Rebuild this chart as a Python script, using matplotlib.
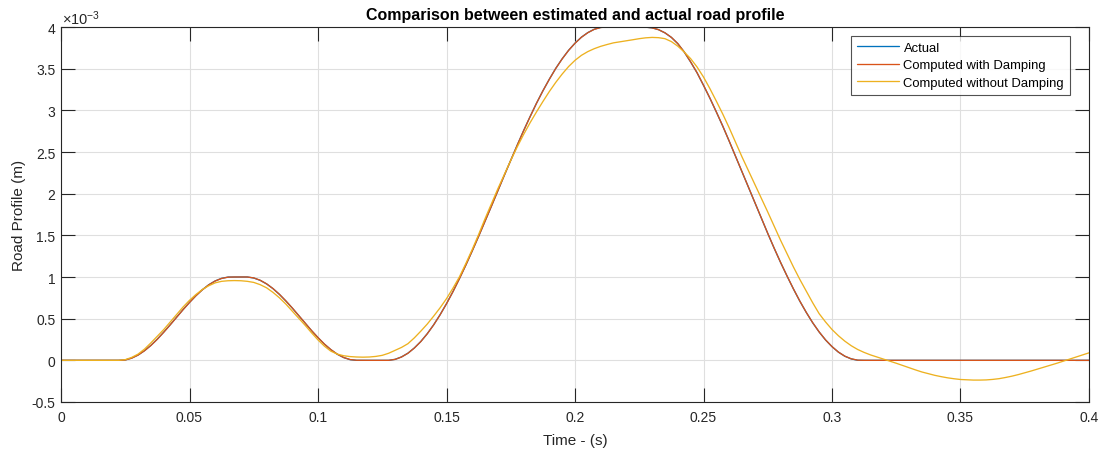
import numpy as np
import matplotlib
matplotlib.use("Agg")
import matplotlib.pyplot as plt
from matplotlib.ticker import FuncFormatter, FixedLocator

plt.rcParams['font.family'] = ['Liberation Sans', 'DejaVu Sans']
plt.rcParams['mathtext.fontset'] = 'custom'
plt.rcParams['mathtext.rm'] = 'Liberation Sans'
plt.rcParams['mathtext.it'] = 'Liberation Sans:italic'

# Sample times (s), 2.5 ms step
time_s = np.round(np.arange(161) * 0.0025, 4)

# Road profile values in units of 1e-3 m
actual_mm = [
    0, 0, 0, 0, 0, 0, 0, 0, 0, 0,
    0.005, 0.027, 0.064, 0.116, 0.180, 0.255, 0.339, 0.427, 0.518, 0.609,
    0.695, 0.776, 0.847, 0.907, 0.953, 0.984, 0.999, 1.0, 1.0, 1.0,
    0.988, 0.960, 0.917, 0.860, 0.791, 0.712, 0.627, 0.537, 0.445, 0.356,
    0.272, 0.194, 0.128, 0.073, 0.033, 0.008, 0, 0, 0, 0,
    0, 0, 0.012, 0.041, 0.086, 0.149, 0.226, 0.319, 0.426, 0.547,
    0.680, 0.824, 0.979, 1.142, 1.313, 1.489, 1.670, 1.852, 2.038, 2.221,
    2.402, 2.581, 2.756, 2.923, 3.084, 3.234, 3.373, 3.503, 3.618, 3.720,
    3.806, 3.878, 3.933, 3.973, 3.995, 4.0, 4.0, 4.0, 4.0, 4.0,
    4.0, 3.998, 3.99, 3.968, 3.93, 3.875, 3.80, 3.70, 3.58, 3.45,
    3.30, 3.145, 2.98, 2.81, 2.63, 2.445, 2.26, 2.075, 1.888, 1.704,
    1.523, 1.345, 1.174, 1.012, 0.856, 0.709, 0.574, 0.450, 0.340, 0.244,
    0.164, 0.098, 0.049, 0.017, 0.001, 0, 0, 0, 0, 0,
    0, 0, 0, 0, 0, 0, 0, 0, 0, 0,
    0, 0, 0, 0, 0, 0, 0, 0, 0, 0,
    0, 0, 0, 0, 0, 0, 0, 0, 0, 0,
    0,
]

damped_mm = [
    0, 0, 0, 0, 0, 0, 0, 0, 0, 0,
    0.004, 0.026, 0.063, 0.115, 0.179, 0.254, 0.338, 0.426, 0.517, 0.608,
    0.694, 0.775, 0.846, 0.906, 0.952, 0.983, 0.998, 1.0, 1.0, 1.0,
    0.989, 0.961, 0.918, 0.861, 0.792, 0.713, 0.628, 0.538, 0.446, 0.357,
    0.273, 0.195, 0.129, 0.074, 0.034, 0.009, 0.001, 0, 0, 0,
    0, 0, 0.011, 0.040, 0.085, 0.148, 0.225, 0.318, 0.425, 0.546,
    0.679, 0.823, 0.978, 1.141, 1.312, 1.488, 1.669, 1.851, 2.037, 2.220,
    2.401, 2.580, 2.755, 2.922, 3.083, 3.233, 3.372, 3.502, 3.617, 3.719,
    3.805, 3.877, 3.932, 3.972, 3.994, 4.0, 4.0, 4.0, 4.0, 4.0,
    4.0, 3.998, 3.99, 3.968, 3.93, 3.876, 3.801, 3.701, 3.581, 3.451,
    3.301, 3.146, 2.981, 2.811, 2.631, 2.446, 2.261, 2.076, 1.889, 1.705,
    1.524, 1.346, 1.175, 1.013, 0.857, 0.710, 0.575, 0.451, 0.341, 0.245,
    0.165, 0.099, 0.050, 0.018, 0.002, 0, 0, 0, 0, 0,
    0, 0, 0, 0, 0, 0, 0, 0, 0, 0,
    0, 0, 0, 0, 0, 0, 0, 0, 0, 0,
    0, 0, 0, 0, 0, 0, 0, 0, 0, 0,
    0,
]

undamped_mm = [
    0, 0, 0, 0, 0, 0, 0, 0, 0, 0,
    0.008, 0.035, 0.075, 0.135, 0.21, 0.29, 0.37, 0.46, 0.55, 0.64,
    0.72, 0.79, 0.85, 0.895, 0.93, 0.948, 0.955, 0.957, 0.955, 0.948,
    0.935, 0.908, 0.87, 0.815, 0.75, 0.675, 0.59, 0.505, 0.42, 0.33,
    0.245, 0.17, 0.11, 0.075, 0.055, 0.045, 0.04, 0.038, 0.04, 0.047,
    0.06, 0.085, 0.12, 0.155, 0.20, 0.27, 0.35, 0.435, 0.53, 0.63,
    0.74, 0.865, 1.0, 1.16, 1.33, 1.51, 1.70, 1.88, 2.06, 2.23,
    2.40, 2.56, 2.71, 2.85, 2.98, 3.105, 3.225, 3.335, 3.435, 3.525,
    3.60, 3.66, 3.705, 3.74, 3.768, 3.79, 3.81, 3.822, 3.835, 3.847,
    3.86, 3.87, 3.875, 3.872, 3.86, 3.825, 3.77, 3.70, 3.62, 3.52,
    3.40, 3.26, 3.11, 2.955, 2.79, 2.615, 2.44, 2.275, 2.11, 1.945,
    1.78, 1.61, 1.44, 1.28, 1.12, 0.97, 0.83, 0.69, 0.56, 0.46,
    0.37, 0.295, 0.23, 0.175, 0.13, 0.095, 0.065, 0.04, 0.015, -0.01,
    -0.035, -0.062, -0.09, -0.115, -0.14, -0.16, -0.18, -0.196, -0.21, -0.221,
    -0.23, -0.234, -0.237, -0.237, -0.235, -0.229, -0.22, -0.206, -0.19, -0.171,
    -0.15, -0.128, -0.105, -0.083, -0.06, -0.035, -0.01, 0.015, 0.04, 0.065,
    0.09,
]

series_labels = ["Actual", "Computed with Damping", "Computed without Damping"]
series_colors = ["#0072BD", "#D95319", "#EDB120"]
x_ticks = [0, 0.05, 0.1, 0.15, 0.2, 0.25, 0.3, 0.35, 0.4]
y_ticks_mm = [-0.5, 0, 0.5, 1, 1.5, 2, 2.5, 3, 3.5, 4]

fig = plt.figure(figsize=(11.03, 4.56), dpi=100)
ax = fig.add_axes([61 / 1103, 53 / 456, 1028 / 1103, 375 / 456])

for vals, lab, col in zip([actual_mm, damped_mm, undamped_mm], series_labels, series_colors):
    ax.plot(time_s, np.array(vals) * 1e-3, color=col, lw=0.95, label=lab,
            solid_joinstyle='round', solid_capstyle='round')

ax.set_xlim(0, 0.4)
ax.set_ylim(-0.5e-3, 4e-3)
ax.xaxis.set_major_locator(FixedLocator(x_ticks))
ax.yaxis.set_major_locator(FixedLocator([v * 1e-3 for v in y_ticks_mm]))
ax.xaxis.set_major_formatter(FuncFormatter(lambda v, p: f"{v:g}"))
ax.yaxis.set_major_formatter(FuncFormatter(lambda v, p: f"{v * 1e3:g}"))

dark = "#262626"
ax.grid(True, color="#DFDFDF", lw=0.8)
ax.set_axisbelow(True)
for s in ax.spines.values():
    s.set_color(dark)
    s.set_linewidth(0.8)
ax.tick_params(direction='in', length=10, width=0.8, colors=dark,
               labelsize=10, top=True, right=True, pad=4)
ax.tick_params(axis='x', pad=6)

ax.set_xlabel("Time - (s)", fontsize=11, color=dark, labelpad=6)
ax.set_ylabel("Road Profile (m)", fontsize=11, color=dark, labelpad=4)
ax.set_title("Comparison between estimated and actual road profile",
             fontsize=11.5, fontweight='bold', color="black", pad=6)

ax.annotate(r"$\times10^{-3}$", xy=(0, 1), xycoords='axes fraction',
            xytext=(1, 2.2), textcoords='offset points', fontsize=10.5,
            color=dark, ha='left', va='baseline')

leg = ax.legend(loc='upper right', bbox_to_anchor=(0.9815, 0.9768),
                borderaxespad=0, fontsize=9.4, frameon=True, fancybox=False,
                handlelength=3.2, handletextpad=0.38, borderpad=0.45,
                labelspacing=0.42)
leg.get_frame().set_edgecolor(dark)
leg.get_frame().set_linewidth(0.8)
for t in leg.get_texts():
    t.set_color("black")

fig.savefig("out.png", dpi=100)
